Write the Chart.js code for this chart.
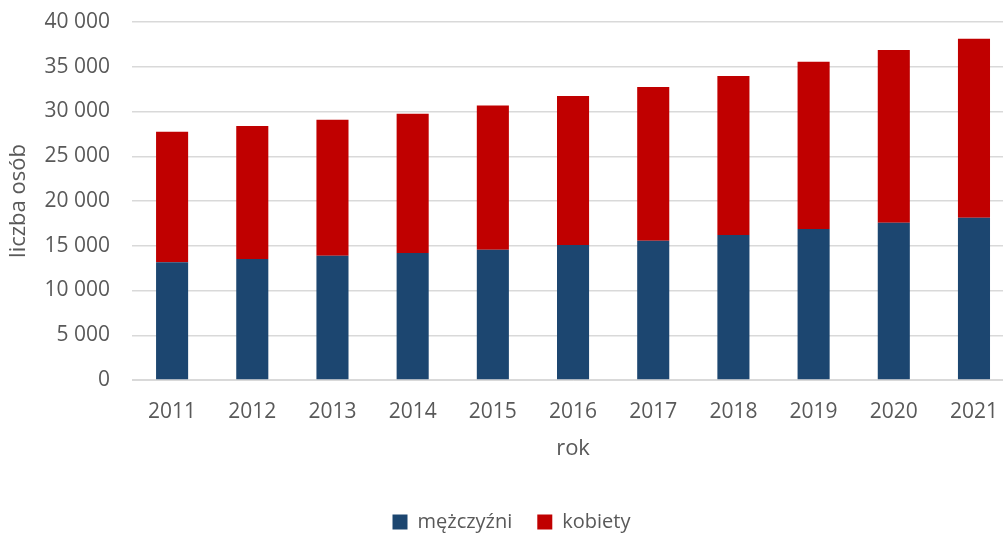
<!DOCTYPE html>
<html>
<head>
<meta charset="utf-8">
<script src="https://cdn.jsdelivr.net/npm/chart.js@4"></script>
<style>
  html, body { margin: 0; padding: 0; background: #fff; overflow: hidden; }
  #wrap { width: 1017px; height: 542px; }
</style>
</head>
<body>
<div id="wrap"><canvas id="my-Chart"></canvas></div>
<script>
// dane
const lata = ['2011', '2012', '2013', '2014', '2015', '2016', '2017', '2018', '2019', '2020', '2021'];
const mezczyzni = [13170, 13510, 13880, 14180, 14550, 15080, 15560, 16200, 16870, 17580, 18140];
const kobiety = [14580, 14860, 15210, 15580, 16110, 16660, 17190, 17780, 18680, 19280, 19990];

const szary = '#595959';
const czcionka = "'Open Sans', 'Noto Sans', sans-serif";

// formatowanie liczb ze spacją jako separatorem tysięcy
function formatuj(v) {
    return String(v).replace(/\B(?=(\d{3})+(?!\d))/g, ' ');
}

const ctx = document.querySelector('#my-Chart');

const myChart = new Chart(ctx, {
    type: 'bar',
    data: {
        labels: lata,
        datasets: [
            {
                label: 'mężczyźni',
                data: mezczyzni,
                backgroundColor: '#1c4670',
                barPercentage: 1,
                categoryPercentage: 0.4
            },
            {
                label: 'kobiety',
                data: kobiety,
                backgroundColor: '#c00000',
                barPercentage: 1,
                categoryPercentage: 0.4
            }
        ]
    },
    options: {
        responsive: true,
        maintainAspectRatio: false,
        animation: false,
        layout: {
            padding: { top: 22, left: 6, right: 0, bottom: 0 }
        },
        plugins: {
            tooltip: { enabled: false },
            legend: {
                position: 'bottom',
                labels: {
                    color: szary,
                    font: { family: czcionka, size: 20 },
                    boxWidth: 15,
                    boxHeight: 15,
                    padding: 25
                }
            }
        },
        scales: {
            x: {
                stacked: true,
                grid: { display: false, drawTicks: false },
                border: { color: '#d9d9d9', width: 1 },
                ticks: {
                    color: szary,
                    font: { family: czcionka, size: 21 },
                    padding: 19
                },
                title: {
                    display: true,
                    text: 'rok',
                    color: szary,
                    font: { family: czcionka, size: 22 },
                    padding: { top: 4, bottom: 25 }
                },
                afterFit: (scale) => { scale.height = 107; }
            },
            y: {
                stacked: true,
                min: 0,
                max: 40000,
                grid: { color: '#d9d9d9', lineWidth: 1.5, tickLength: 20, tickColor: 'rgba(0,0,0,0)' },
                border: { display: false },
                ticks: {
                    stepSize: 5000,
                    color: szary,
                    font: { family: czcionka, size: 21 },
                    padding: 2,
                    callback: (v) => formatuj(v)
                },
                title: {
                    display: true,
                    text: 'liczba osób',
                    color: szary,
                    font: { family: czcionka, size: 22 },
                    padding: { top: 0, bottom: 4 }
                },
                afterFit: (scale) => { scale.width = 126; }
            }
        }
    }
});
</script>
</body>
</html>
